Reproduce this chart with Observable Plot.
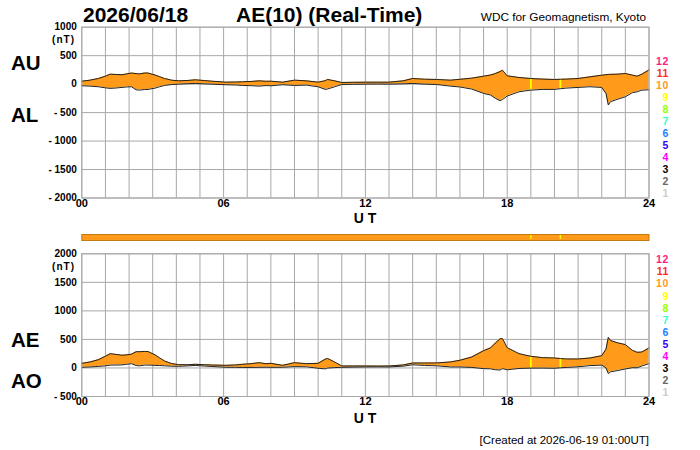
<!DOCTYPE html>
<html>
<head>
<meta charset="utf-8">
<script src="https://cdn.jsdelivr.net/npm/d3@7"></script>
<script src="https://cdn.jsdelivr.net/npm/@observablehq/plot@0.6"></script>
<style>
  html, body { margin: 0; padding: 0; background: white; }
  #wrap { position: relative; width: 700px; height: 450px; overflow: hidden; font-family: "Liberation Sans", Arial, sans-serif; }
  #wrap > svg, #wrap > div { position: absolute; left: 0; }
  .ov text { font-family: "Liberation Sans", Arial, sans-serif; }
</style>
</head>
<body>
<div id="wrap"></div>
<script>
// ---- data (hours UT, nT) ----
const hours = [0,0.35,0.7,1.0,1.2,1.45,1.7,1.9,2.1,2.3,2.45,2.65,2.8,3.1,3.3,3.5,3.8,4.1,4.5,4.8,5.2,5.5,6.1,6.5,6.8,7.2,7.5,7.8,8.0,8.5,9.0,9.5,10.0,10.3,10.4,10.7,11.0,11.5,12.0,12.5,13.0,13.6,14.0,14.5,15.0,15.6,16.0,16.5,17.0,17.3,17.5,17.7,17.8,18.0,18.5,19.0,19.5,20.0,20.25,20.5,21.0,21.5,22.0,22.18,22.28,22.37,22.65,23.0,23.29,23.5,23.7,24.0];
const auValues = [52,70,99,140,175,170,165,180,195,185,180,195,195,160,130,99,70,58,65,76,62,52,35,38,41,48,58,50,52,35,70,58,35,60,82,58,29,32,35,35,35,58,99,87,82,70,85,105,140,160,187,220,245,146,117,99,88,82,85,88,99,128,157,165,170,172,175,187,160,140,175,250];
const alValues = [-29,-35,-46,-65,-75,-68,-58,-50,-46,-100,-105,-95,-93,-70,-45,-23,-8,0,8,12,5,0,-11,-15,-23,-28,-35,-25,-29,-11,-23,-17,-46,-93,-85,-46,-6,-3,0,2,0,5,12,0,-6,-35,-50,-87,-163,-192,-250,-291,-270,-210,-134,-105,-93,-93,-80,-70,-58,-46,-58,-163,-367,-309,-268,-222,-151,-134,-105,-100];
// times where fewer stations were available
const dropTimes = [19.0, 20.25];
const dropCounts = [9, 9];
const normalCount = 10;

const hourTicks = [0, 6, 12, 18, 24];
const auTicks = [-2000, -1500, -1000, -500, 0, 500, 1000];
const aeTicks = [-500, 0, 500, 1000, 1500, 2000];
const legendLabels = ["12","11","10","9","8","7","6","5","4","3","2","1"];
const legendColors = ["#ff1a80","#ff2a1a","#ff9a1a","#ffff00","#99ff00","#33ffcc","#1a80ff","#3300ff","#ff00ff","#000000","#666666","#cccccc"];

const titleDate = "2026/06/18";
const titleIndex = "AE(10) (Real-Time)";
const source = "WDC for Geomagnetism, Kyoto";
const created = "[Created at 2026-06-19 01:00UT]";

// ---- derived table ----
const countColor = n => legendColors[12 - n];
const rows = hours.map((t, i) => {
  const j = dropTimes.indexOf(t);
  const au = auValues[i], al = alValues[i];
  return {t, AU: au, AL: al, AE: au - al, AO: (au + al) / 2, n: j >= 0 ? dropCounts[j] : normalCount};
});
const drops = rows.filter(d => d.n !== normalCount);
const fillColor = countColor(normalCount);

const wrap = document.getElementById("wrap");
const fmtY = d => d < 0 ? "- " + Math.abs(d) : String(d);
const fmtX = d => String(d).padStart(2, "0");
const baseStyle = {background: "transparent", fontFamily: "Liberation Sans, Arial, sans-serif", color: "black", overflow: "visible"};
const gridColor = "#a8a8a8";

function panel(domain, ticks, y1, y2, top, height, mt, mb) {
  const p = Plot.plot({
    width: 700, height,
    marginLeft: 81.3, marginRight: 51.5, marginTop: mt, marginBottom: mb,
    style: baseStyle,
    x: {domain: [0, 24]},
    y: {domain},
    marks: [
      Plot.gridX(d3.range(0, 25, 1), {stroke: gridColor, strokeOpacity: 1}),
      Plot.gridY(ticks, {stroke: gridColor, strokeOpacity: 1}),
      Plot.areaY(rows, {x: "t", y1, y2, fill: fillColor, curve: "linear"}),
      Plot.ruleX(drops, {x: "t", y1, y2, stroke: d => countColor(d.n), strokeWidth: 1.8}),
      Plot.lineY(rows, {x: "t", y: y1, stroke: "#222", strokeWidth: 1}),
      Plot.lineY(rows, {x: "t", y: y2, stroke: "#222", strokeWidth: 1}),
      Plot.frame({stroke: gridColor}),
      Plot.axisX(hourTicks, {tickSize: 0, tickPadding: 1, tickFormat: fmtX, fontSize: 11, fontWeight: "bold", label: null}),
      Plot.axisY(ticks, {tickSize: 0, tickPadding: 5, tickFormat: fmtY, fontSize: 10, fontWeight: "bold", label: null, style: {letterSpacing: "1.4px"}})
    ]
  });
  p.style.top = top + "px";
  wrap.appendChild(p);
}

// top panel: AU / AL
panel([-2000, 1000], auTicks, "AL", "AU", 0, 225, 26.7, 27.5);

// station bar
const bar = Plot.plot({
  width: 700, height: 10,
  marginLeft: 81.3, marginRight: 51.5, marginTop: 2, marginBottom: 2,
  style: baseStyle,
  x: {domain: [0, 24], axis: null},
  marks: [
    Plot.frame({fill: fillColor, stroke: "#c07a10"}),
    Plot.ruleX(drops, {x: "t", stroke: d => countColor(d.n), strokeWidth: 1.5, insetTop: 1, insetBottom: 1})
  ]
});
bar.style.top = "232px";
wrap.appendChild(bar);

// bottom panel: AE / AO
panel([-500, 2000], aeTicks, "AO", "AE", 241, 190, 12.3, 35);

// ---- text overlay ----
const ns = "http://www.w3.org/2000/svg";
const ov = document.createElementNS(ns, "svg");
ov.setAttribute("class", "ov");
ov.setAttribute("width", 700); ov.setAttribute("height", 450);
ov.style.position = "absolute"; ov.style.left = "0"; ov.style.top = "0";
function txt(s, x, y, size, opts = {}) {
  const e = document.createElementNS(ns, "text");
  e.textContent = s;
  e.setAttribute("x", x); e.setAttribute("y", y);
  e.setAttribute("font-size", size);
  e.setAttribute("font-weight", opts.weight || "bold");
  e.setAttribute("text-anchor", opts.anchor || "start");
  e.setAttribute("fill", opts.fill || "black");
  if (opts.ls) e.setAttribute("letter-spacing", opts.ls);
  ov.appendChild(e);
}
txt(titleDate, 83, 21.7, 21);
txt(titleIndex, 236, 21.7, 21);
txt(source, 646, 21, 11.8, {anchor: "end", weight: "normal"});
txt("(nT)", 75, 43, 10, {anchor: "end", ls: "1px"});
txt("(nT)", 75, 270, 10, {anchor: "end", ls: "1px"});
txt("AU", 11, 70, 20.5);
txt("AL", 11, 121.7, 20.5);
txt("AE", 11, 347, 20.5);
txt("AO", 11, 388.3, 20.5);
txt("U T", 365, 223, 14, {anchor: "middle"});
txt("U T", 365, 423, 14, {anchor: "middle"});
txt(created, 649, 444, 11.5, {anchor: "end", weight: "normal"});
legendLabels.forEach((l, i) => {
  txt(l, 669, 64.8 + i * 12.05, 10.5, {anchor: "end", fill: legendColors[i], ls: "0.6px"});
  txt(l, 669, 263.4 + i * 12.04, 10.5, {anchor: "end", fill: legendColors[i], ls: "0.6px"});
});
wrap.appendChild(ov);
</script>
</body>
</html>
